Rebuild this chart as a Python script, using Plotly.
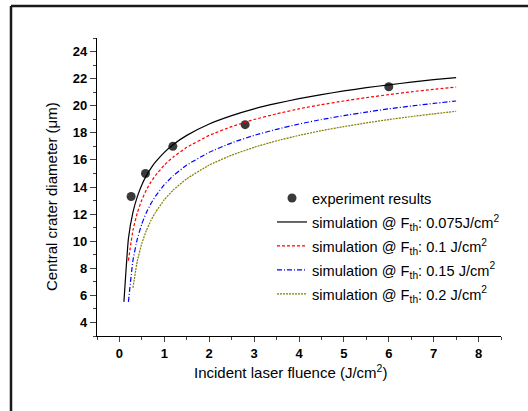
import plotly.graph_objects as go

# Experimental data
exp_x = [0.26, 0.58, 1.19, 2.8, 6.0]
exp_y = [13.3, 15.0, 17.0, 18.6, 21.4]

# Simulation curves
sim_x_black = [0.1, 0.2, 0.3, 0.4, 0.5, 0.6, 0.7, 0.8, 1.0, 1.2, 1.5, 2.0, 2.5, 3.0, 3.5, 4.0, 4.5, 5.0, 5.5, 6.0, 6.5, 7.0, 7.5]
sim_y_black = [5.52, 10.19, 12.12, 13.31, 14.17, 14.84, 15.38, 15.83, 16.56, 17.14, 17.81, 18.65, 19.27, 19.77, 20.17, 20.52, 20.82, 21.09, 21.33, 21.54, 21.74, 21.92, 22.08]

sim_x_red = [0.2, 0.3, 0.4, 0.5, 0.6, 0.7, 0.8, 1.0, 1.2, 1.5, 2.0, 2.5, 3.0, 3.5, 4.0, 4.5, 5.0, 5.5, 6.0, 6.5, 7.0, 7.5]
sim_y_red = [8.57, 10.79, 12.12, 13.06, 13.78, 14.36, 14.84, 15.62, 16.22, 16.93, 17.81, 18.46, 18.98, 19.40, 19.77, 20.08, 20.35, 20.60, 20.82, 21.03, 21.21, 21.38]

sim_x_blue = [0.2, 0.3, 0.4, 0.5, 0.6, 0.7, 0.8, 1.0, 1.2, 1.5, 2.0, 2.5, 3.0, 3.5, 4.0, 4.5, 5.0, 5.5, 6.0, 6.5, 7.0, 7.5]
sim_y_blue = [5.52, 8.57, 10.19, 11.29, 12.12, 12.77, 13.31, 14.17, 14.84, 15.62, 16.56, 17.26, 17.81, 18.26, 18.65, 18.98, 19.27, 19.53, 19.77, 19.98, 20.17, 20.35]

sim_x_olive = [0.3, 0.4, 0.5, 0.6, 0.7, 0.8, 1.0, 1.2, 1.5, 2.0, 2.5, 3.0, 3.5, 4.0, 4.5, 5.0, 5.5, 6.0, 6.5, 7.0, 7.5]
sim_y_olive = [6.55, 8.57, 9.85, 10.79, 11.52, 12.12, 13.06, 13.78, 14.61, 15.62, 16.35, 16.93, 17.41, 17.81, 18.16, 18.46, 18.73, 18.98, 19.20, 19.40, 19.59]

names = [
    "experiment results",
    "simulation @ F<sub>th</sub>: 0.075J/cm<sup>2</sup>",
    "simulation @ F<sub>th</sub>: 0.1 J/cm<sup>2</sup>",
    "simulation @ F<sub>th</sub>: 0.15 J/cm<sup>2</sup>",
    "simulation @ F<sub>th</sub>: 0.2 J/cm<sup>2</sup>",
]

x_ticks = [0, 1, 2, 3, 4, 5, 6, 7, 8]
y_ticks = [4, 6, 8, 10, 12, 14, 16, 18, 20, 22, 24]

x_title = "Incident laser fluence (J/cm<sup>2</sup>)"
y_title = "Central crater diameter (μm)"

FONT = "Liberation Sans, Arial, sans-serif"

fig = go.Figure()
fig.add_trace(go.Scatter(x=exp_x, y=exp_y, mode="markers", name=names[0], legendgroup="g0",
                         marker=dict(color="#3a3a3a", size=9)))
fig.add_trace(go.Scatter(x=sim_x_black, y=sim_y_black, mode="lines", name=names[1], legendgroup="g1",
                         line=dict(color="black", width=1.2, shape="spline", smoothing=0.4)))
fig.add_trace(go.Scatter(x=sim_x_red, y=sim_y_red, mode="lines", name=names[2], legendgroup="g2",
                         line=dict(color="#ff0000", width=1.2, dash="3px,2px", shape="spline", smoothing=0.4)))
fig.add_trace(go.Scatter(x=sim_x_blue, y=sim_y_blue, mode="lines", name=names[3], legendgroup="g3",
                         line=dict(color="#0000ff", width=1.2, dash="5px,2px,1px,2px", shape="spline", smoothing=0.4)))
fig.add_trace(go.Scatter(x=sim_x_olive, y=sim_y_olive, mode="lines", name=names[4], legendgroup="g4",
                         line=dict(color="#808000", width=1.2, dash="2px,1px", shape="spline", smoothing=0.4)))

L, R, T, B = 97, 27, 38, 75
W, H = 528, 411
pw, ph = W - L - R, H - T - B

fig.update_layout(
    width=W, height=H,
    margin=dict(l=L, r=R, t=T, b=B, autoexpand=False),
    paper_bgcolor="white", plot_bgcolor="white",
    font=dict(family=FONT, color="black", size=14),
    showlegend=True,
    legend=dict(x=(272 - L) / pw, y=1 - (182 - T) / ph, xanchor="left", yanchor="top",
                bgcolor="rgba(0,0,0,0)", font=dict(size=14.6, family=FONT),
                traceorder="grouped", tracegroupgap=2, itemwidth=30),
    xaxis=dict(range=[-0.5, 8.5], tickvals=x_ticks, ticks="outside", ticklen=5, tickwidth=1,
               showline=True, linecolor="black", linewidth=1.2, showgrid=False, zeroline=False,
               tickfont=dict(size=13, family=FONT, weight="bold"),
               minor=dict(dtick=0.5, tick0=0, ticks="outside", ticklen=3, tickwidth=1, showgrid=False)),
    yaxis=dict(range=[3, 25], tickvals=y_ticks, ticks="outside", ticklen=6, tickwidth=1,
               showline=True, linecolor="black", linewidth=1.2, showgrid=False, zeroline=False,
               tickfont=dict(size=13, family=FONT, weight="bold"),
               minor=dict(dtick=1, tick0=0, ticks="outside", ticklen=3, tickwidth=1, showgrid=False)),
)

# axis titles
fig.add_annotation(text=x_title, xref="paper", yref="paper", x=(290 - L) / pw, y=-(371 - T - ph) / ph,
                   xanchor="center", yanchor="middle", showarrow=False, font=dict(size=15, family=FONT))
fig.add_annotation(text=y_title, xref="paper", yref="paper", x=(52 - L) / pw, y=1 - (197 - T) / ph,
                   xanchor="center", yanchor="middle", textangle=-90, showarrow=False,
                   font=dict(size=15, family=FONT))

# outer frame (only top and left edges are inside the original picture)
fx0, fy1 = (11 - L) / pw, 1 + (T - 6) / ph
fig.add_shape(type="line", xref="paper", yref="paper", x0=fx0, x1=(W + 20 - L) / pw, y0=fy1, y1=fy1,
              line=dict(color="#1a1a1a", width=2.5), layer="above")
fig.add_shape(type="line", xref="paper", yref="paper", x0=fx0, x1=fx0, y0=fy1, y1=-(B + 30) / ph,
              line=dict(color="#1a1a1a", width=2.5), layer="above")

fig.write_html("out.html")
